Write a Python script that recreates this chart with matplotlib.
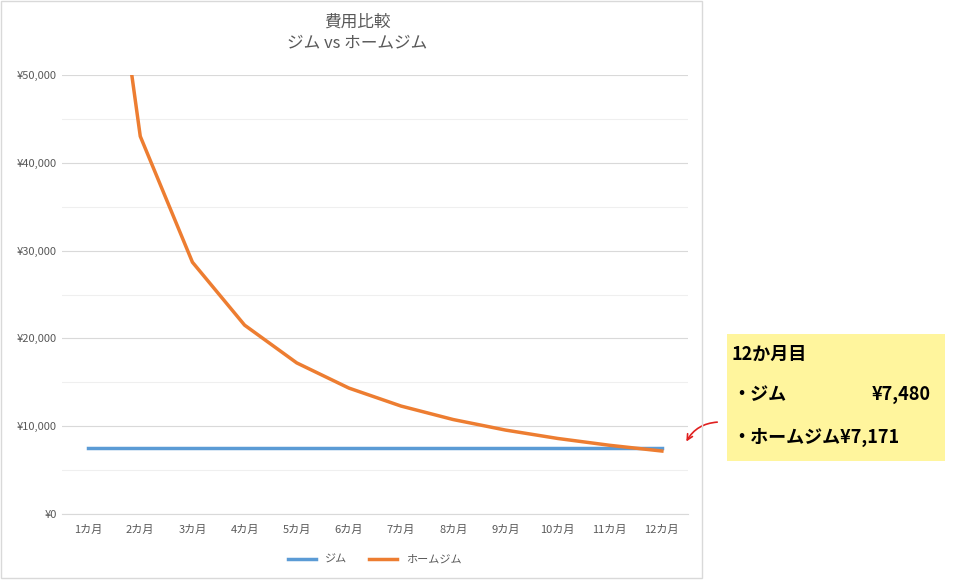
import matplotlib.pyplot as plt
from matplotlib.patches import Rectangle
import matplotlib.ticker as ticker

plt.rcParams["font.family"] = "Noto Sans CJK JP"

months = ["1カ月", "2カ月", "3カ月", "4カ月", "5カ月", "6カ月",
          "7カ月", "8カ月", "9カ月", "10カ月", "11カ月", "12カ月"]
gym = [7480] * 12
home_gym = [86052, 43026, 28684, 21513, 17210, 14342,
            12293, 10757, 9561, 8605, 7823, 7171]

fig = plt.figure(figsize=(9.63, 5.86), dpi=100)
fig.patches.append(Rectangle((0.001, 0.014), 0.728, 0.984, transform=fig.transFigure,
                             fill=False, edgecolor="#d9d9d9", linewidth=1))

ax = fig.add_axes([0.0644, 0.1229, 0.650, 0.749])
x = list(range(len(months)))
ax.plot(x, gym, color="#5b9bd5", linewidth=2.5, label="ジム")
ax.plot(x, home_gym, color="#ed7d31", linewidth=2.5, label="ホームジム")

ax.set_xlim(-0.5, 11.5)
ax.set_ylim(0, 50000)
ax.set_xticks(x)
ax.set_xticklabels(months, fontsize=8, color="#595959")
ax.yaxis.set_major_locator(ticker.MultipleLocator(10000))
ax.yaxis.set_minor_locator(ticker.MultipleLocator(5000))
ax.yaxis.set_major_formatter(ticker.FuncFormatter(lambda v, _: f"¥{v:,.0f}"))
ax.tick_params(axis="y", labelsize=8, colors="#595959", length=0, which="both")
ax.tick_params(axis="x", length=0, pad=8)
ax.grid(axis="y", which="major", color="#d9d9d9", linewidth=0.8)
ax.grid(axis="y", which="minor", color="#efefef", linewidth=0.8)
for s in ["top", "right", "left"]:
    ax.spines[s].set_visible(False)
ax.spines["bottom"].set_color("#d9d9d9")

fig.text(0.371, 0.945, "費用比較\nジム vs ホームジム", ha="center", va="center",
         fontsize=12, color="#595959", linespacing=1.3)
ax.legend(loc="upper center", bbox_to_anchor=(0.5, -0.07), ncol=2, frameon=False,
          fontsize=8, labelcolor="#595959", handlelength=2.5)

fig.patches.append(Rectangle((0.755, 0.213), 0.226, 0.217, transform=fig.transFigure,
                             facecolor="#fff59d", edgecolor="none"))
fig.text(0.760, 0.395, "12か月目", fontsize=13, fontweight="bold", va="center")
fig.text(0.760, 0.326, "・ジム", fontsize=13, fontweight="bold", va="center")
fig.text(0.967, 0.326, "¥7,480", fontsize=13, fontweight="bold", va="center", ha="right")
fig.text(0.760, 0.254, "・ホームジム¥7,171", fontsize=13, fontweight="bold", va="center")

ax.annotate("", xy=(685, 586 - 444), xycoords="figure pixels",
            xytext=(720, 586 - 422), textcoords="figure pixels",
            arrowprops=dict(arrowstyle="->", color="#e02020", linewidth=1.2,
                            connectionstyle="arc3,rad=0.3"))

fig.savefig("out.png", dpi=100)
